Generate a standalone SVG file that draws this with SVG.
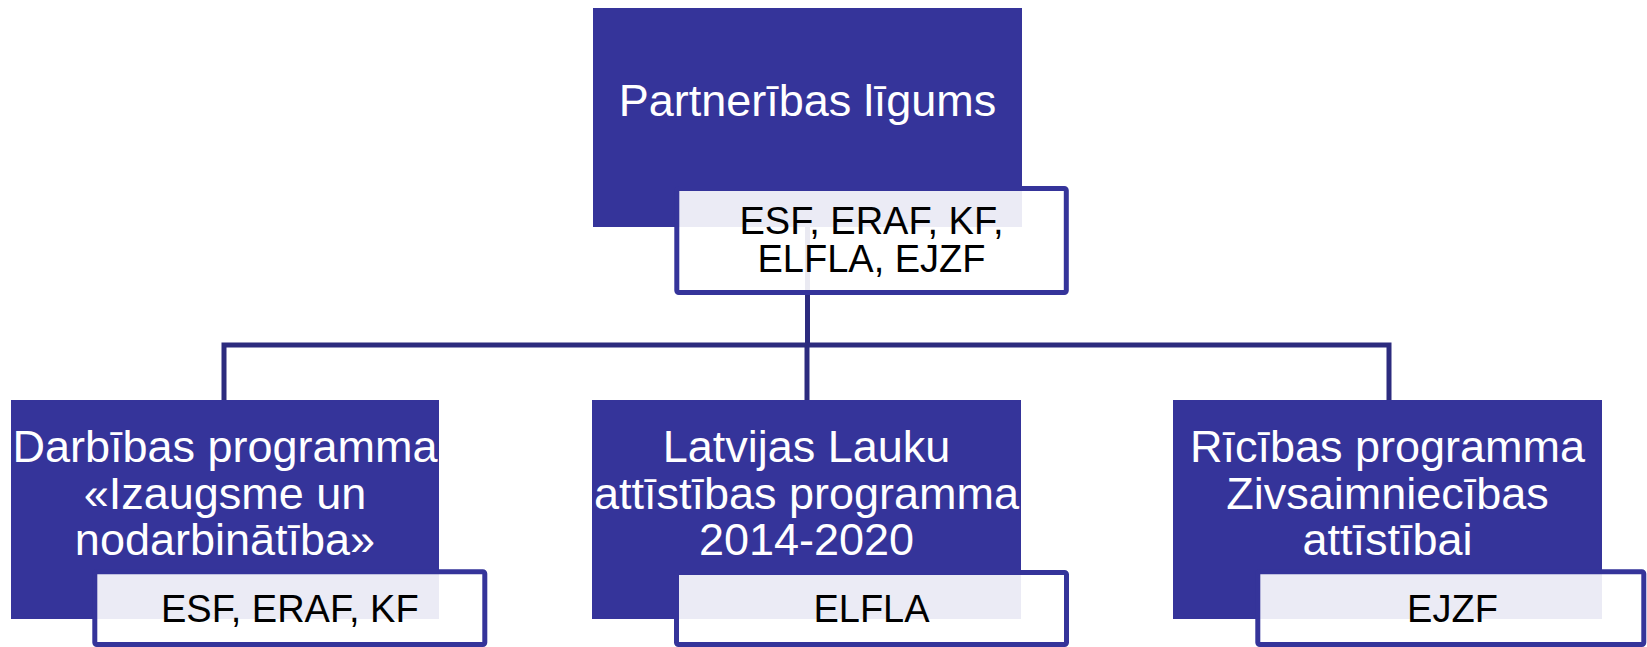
<svg xmlns="http://www.w3.org/2000/svg" width="1647" height="647" viewBox="0 0 1647 647">
  <style>
    .main { fill: #35349a; }
    .sub { fill: #ffffff; fill-opacity: 0.9; stroke: #35349a; stroke-width: 5; }
    .title { font-family: "Liberation Sans", Arial, sans-serif; font-size: 45px; fill: #ffffff; text-anchor: middle; }
    .fund { font-family: "Liberation Sans", Arial, sans-serif; font-size: 38px; fill: #000000; text-anchor: middle; }
    .conn { fill: none; stroke: #2c2b7e; stroke-width: 5; stroke-linejoin: miter; }
  </style>
  <rect width="1647" height="647" fill="#ffffff"/>
  <g id="connectors">
    <path class="conn" d="M807.5 227 V345"/>
    <path class="conn" d="M224 400 V345 H1389 V400"/>
    <path class="conn" d="M807 345 V400"/>
  </g>
  <g id="node-partneribas">
    <rect class="main" x="593" y="8" width="429" height="219"/>
    <text class="title" x="807.5" y="116">Partnerības līgums</text>
    <rect class="sub" x="676.8" y="188.5" width="389.5" height="104" rx="2"/>
    <text class="fund" x="871.5" y="233.5">ESF, ERAF, KF,</text>
    <text class="fund" x="871.5" y="272">ELFLA, EJZF</text>
  </g>
  <g id="node-darbibas">
    <rect class="main" x="11" y="400" width="428" height="219"/>
    <text class="title" x="225" y="461.5">Darbības programma</text>
    <text class="title" x="225" y="508.5">«Izaugsme un</text>
    <text class="title" x="225" y="555">nodarbinātība»</text>
    <rect class="sub" x="94.8" y="571.8" width="390" height="72.7" rx="2"/>
    <text class="fund" x="289.8" y="621.5">ESF, ERAF, KF</text>
  </g>
  <g id="node-lauku">
    <rect class="main" x="592" y="400" width="429" height="219"/>
    <text class="title" x="806.5" y="461.5">Latvijas Lauku</text>
    <text class="title" x="806.5" y="508.5">attīstības programma</text>
    <text class="title" x="806.5" y="555">2014-2020</text>
    <rect class="sub" x="676.5" y="572.5" width="390" height="72" rx="2"/>
    <text class="fund" x="871.5" y="621.5">ELFLA</text>
  </g>
  <g id="node-ricibas">
    <rect class="main" x="1173" y="400" width="429" height="219"/>
    <text class="title" x="1387.5" y="461.5">Rīcības programma</text>
    <text class="title" x="1387.5" y="508.5">Zivsaimniecības</text>
    <text class="title" x="1387.5" y="555">attīstībai</text>
    <rect class="sub" x="1257.8" y="571.8" width="386" height="72.7" rx="2"/>
    <text class="fund" x="1452.5" y="621.5">EJZF</text>
  </g>
</svg>
